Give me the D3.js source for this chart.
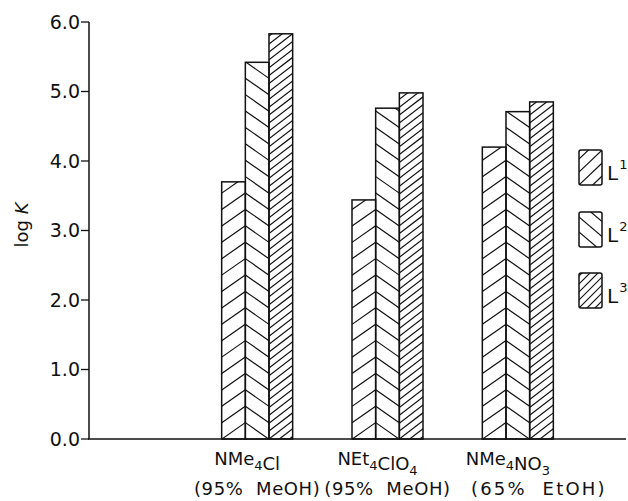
<!DOCTYPE html>
<html><head><meta charset="utf-8">
<script src="https://cdn.jsdelivr.net/npm/d3@7"></script>
<style>
html,body{margin:0;padding:0;background:#fff;}
svg{display:block;}
text{font-family:"DejaVu Sans",sans-serif;fill:#111;}
</style></head><body>
<div id="chart"></div>
<script>
// ---- data ----
const categories = ["NMe_4Cl", "NEt_4ClO_4", "NMe_4NO_3"];
const solvents = ["(95%  MeOH)", "(95%  MeOH)", "(65%  EtOH)"];
const seriesNames = ["L1", "L2", "L3"];
const seriesSup = ["1", "2", "3"];
const valuesL1 = [3.70, 3.44, 4.20];
const valuesL2 = [5.42, 4.76, 4.71];
const valuesL3 = [5.83, 4.98, 4.85];
const yTicks = [0, 1, 2, 3, 4, 5, 6];
const yTickLabels = ["0.0", "1.0", "2.0", "3.0", "4.0", "5.0", "6.0"];
const yLabel = ["log ", "K"];

const series = [valuesL1, valuesL2, valuesL3];

const W = 628, H = 501;
const svg = d3.select("#chart").append("svg").attr("width", W).attr("height", H);
const ink = "#111";

const y = d3.scaleLinear().domain([0, 6]).range([439, 22]);
const x = d3.scaleBand().domain(categories).range([192, 583]).padding(0);
const inner = d3.scaleBand().domain(seriesNames).range([-35.5, 35.5]).padding(0);

const hatchStyle = [
  {period: 16.4, slope: 0.70, dir: 1},   // "/"
  {period: 16.4, slope: 0.70, dir: -1},  // "\"
  {period: 7.9,  slope: 0.77, dir: 1}    // dense "/"
];

let clipId = 0;
function hatch(g, x0, x1, yTop, yBot, ax, ay, st) {
  const id = "clip" + (clipId++);
  svg.append("clipPath").attr("id", id).append("rect")
    .attr("x", x0).attr("y", yTop).attr("width", x1 - x0).attr("height", yBot - yTop);
  const gg = g.append("g").attr("clip-path", `url(#${id})`);
  const span = st.slope * (Math.abs(x1 - ax) + Math.abs(x0 - ax)) + 2;
  const kMin = Math.floor((yTop - ay - span) / st.period);
  const kMax = Math.ceil((yBot - ay + span) / st.period);
  const ks = d3.range(kMin, kMax + 1);
  gg.selectAll("line").data(ks).join("line")
    .attr("x1", x0 - 1).attr("x2", x1 + 1)
    .attr("y1", k => ay + k * st.period - st.dir * st.slope * (x0 - 1 - ax))
    .attr("y2", k => ay + k * st.period - st.dir * st.slope * (x1 + 1 - ax))
    .attr("stroke", ink).attr("stroke-width", 1.2);
}

// ---- bars ----
const barsG = svg.append("g");
categories.forEach((c, ci) => {
  const cx = x(c) + x.bandwidth() / 2;
  const b12 = cx + inner("L2");
  const b23 = cx + inner("L3");
  seriesNames.forEach((s, si) => {
    const v = series[si][ci];
    const x0 = cx + inner(s), x1 = x0 + inner.bandwidth();
    const yt = y(v), yb = y(0);
    const ax = si === 2 ? b23 : b12;
    hatch(barsG, x0, x1, yt, yb, ax, yb, hatchStyle[si]);
    barsG.append("rect").attr("x", x0).attr("y", yt)
      .attr("width", x1 - x0).attr("height", yb - yt)
      .attr("fill", "none").attr("stroke", ink).attr("stroke-width", 1.5);
  });
});

// ---- axes ----
const axG = svg.append("g");
axG.append("line").attr("x1", 89).attr("x2", 89).attr("y1", y(0)).attr("y2", y(6))
  .attr("stroke", ink).attr("stroke-width", 1.5);
axG.append("line").attr("x1", 88).attr("x2", 626).attr("y1", y(0)).attr("y2", y(0))
  .attr("stroke", ink).attr("stroke-width", 1.5);
axG.selectAll(".tk").data(yTicks).join("line").attr("class", "tk")
  .attr("x1", 81).attr("x2", 89).attr("y1", d => y(d)).attr("y2", d => y(d))
  .attr("stroke", ink).attr("stroke-width", 1.3);
axG.selectAll(".tl").data(yTicks).join("text").attr("class", "tl")
  .attr("x", 80).attr("y", d => y(d)).attr("dy", "0.36em")
  .attr("text-anchor", "end").attr("font-size", 19)
  .text((d, i) => yTickLabels[i]);

// y label
const yl = svg.append("text").attr("transform", "translate(28,225) rotate(-90)")
  .attr("text-anchor", "middle").attr("font-size", 18);
yl.append("tspan").text(yLabel[0]);
yl.append("tspan").attr("font-style", "italic").text(yLabel[1]);

// ---- category labels ----
categories.forEach((c, ci) => {
  const cx = x(c) + x.bandwidth() / 2;
  const t = svg.append("text").attr("x", cx - 10).attr("y", 465)
    .attr("text-anchor", "middle").attr("font-size", 18);
  const parts = c.split(/_(\d)/);
  parts.forEach((p, pi) => {
    if (!p) return;
    if (pi % 2 === 1) {
      t.append("tspan").attr("font-size", 13).attr("dy", 5).text(p);
      t.append("tspan").attr("dy", -5).text("");
    } else {
      t.append("tspan").text(p);
    }
  });
  svg.append("text").attr("x", cx + (ci === 2 ? 21 : 0)).attr("y", 495)
    .attr("text-anchor", "middle").attr("font-size", 18)
    .attr("letter-spacing", ci === 2 ? 2.2 : 0.6)
    .style("white-space", "pre").text(solvents[ci]);
});

// ---- legend ----
const legTop = [150, 212, 273];
const legendStyle = [
  {period: 13, slope: 0.95, dir: 1},
  {period: 15, slope: 0.85, dir: -1},
  {period: 8, slope: 1.0, dir: 1}
];
const legG = svg.append("g");
seriesNames.forEach((s, si) => {
  const x0 = 579, x1 = 602, yt = legTop[si], yb = yt + 35;
  hatch(legG, x0, x1, yt, yb, x0, yb, legendStyle[si]);
  legG.append("rect").attr("x", x0).attr("y", yt).attr("width", x1 - x0).attr("height", yb - yt)
    .attr("rx", 2).attr("fill", "none").attr("stroke", ink).attr("stroke-width", 1.5);
  const t = legG.append("text").attr("x", 607).attr("y", yt + 30).attr("font-size", 20);
  t.append("tspan").text("L");
  t.append("tspan").attr("font-size", 13).attr("dy", -11).attr("dx", 1).text(seriesSup[si]);
});
</script>
</body></html>
